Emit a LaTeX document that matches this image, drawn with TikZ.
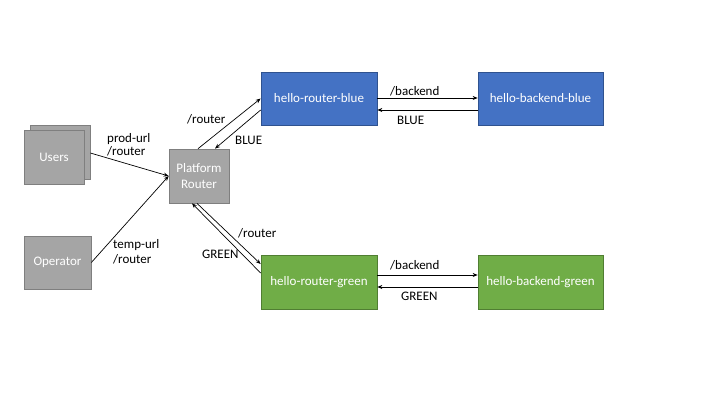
\documentclass[tikz,border=0pt]{standalone}
\usepackage{fontspec}
\setmainfont{Carlito}
\usetikzlibrary{arrows.meta}
\definecolor{svcblue}{HTML}{4472C4}
\definecolor{svcblueline}{HTML}{2F528F}
\definecolor{svcgreen}{HTML}{70AD47}
\definecolor{svcgreenline}{HTML}{507E32}
\definecolor{actgray}{HTML}{A5A5A5}
\definecolor{actgrayline}{HTML}{7F7F7F}
\tikzset{
  box/.style={draw, line width=0.7pt, text=white, font=\fontsize{13}{16}\selectfont,
    align=center, inner sep=0pt},
  graybox/.style={box, fill=actgray, draw=actgrayline},
  bluebox/.style={box, fill=svcblue, draw=svcblueline, minimum height=53pt},
  greenbox/.style={box, fill=svcgreen, draw=svcgreenline, minimum height=54pt},
  flow/.style={line width=0.7pt, -{Stealth[length=5pt,width=4pt]}},
  lbl/.style={font=\fontsize{13}{13}\selectfont, align=left, inner sep=0pt, anchor=west},
}
\begin{document}
\begin{tikzpicture}[x=1pt,y=-1pt]
\useasboundingbox (0,0) rectangle (720,405);
\fill[white] (0,0) rectangle (720,405);

% actors
\node[graybox, minimum width=60pt, minimum height=54pt] (usersback) at (60,152) {};
\node[graybox, minimum width=60pt, minimum height=54pt] (users) at (54,157) {Users};
\node[graybox, minimum width=67pt, minimum height=53pt] (operator) at (57.5,262.5) {Operator};
\node[graybox, minimum width=60pt, minimum height=54pt] (platform) at (199,176) {Platform\\Router};

% services
\node[bluebox, minimum width=116pt] (rblue) at (319,98.5) {hello-router-blue};
\node[bluebox, minimum width=125pt] (bblue) at (540.5,98.5) {hello-backend-blue};
\node[greenbox, minimum width=116pt] (rgreen) at (319,282) {hello-router-green};
\node[greenbox, minimum width=125pt] (bgreen) at (540.5,282) {hello-backend-green};

% incoming traffic
\draw[flow] ([yshift=-1pt]usersback.east) -- (platform.west);
\draw[flow] (operator.east) -- (platform.west);
\node[lbl, font=\fontsize{13}{13}\selectfont] (lprod) at (107,144.5) {prod-url\\/router};
\node[lbl, font=\fontsize{13}{15}\selectfont] (ltemp) at (113,251.5) {temp-url\\/router};

% platform router <-> blue router
\draw[flow] ([xshift=-1pt]platform.north) -- (rblue.west);
\draw[flow] ([yshift=-11.5pt]rblue.west) -- ([xshift=16pt]platform.north);
\node[lbl] (lrb) at (187,119) {/router};
\node[lbl] (lbb) at (235,140) {BLUE};

% platform router <-> green router
\draw[flow] ([xshift=-2pt]platform.south) -- ([yshift=18pt]rgreen.west);
\draw[flow] ([yshift=9pt]rgreen.west) -- ([xshift=-7pt]platform.south);
\node[lbl] (lrg) at (238,233) {/router};
\node[lbl] (lgg) at (202,254) {GREEN};

% blue router <-> blue backend
\draw[flow] ([yshift=0.5pt]rblue.east) -- ([yshift=0.5pt]bblue.west);
\draw[flow] ([yshift=-11.5pt]bblue.west) -- ([yshift=-11.5pt]rblue.east);
\node[lbl] (lbk1) at (390,91) {/backend};
\node[lbl] (lbk2) at (397,120) {BLUE};

% green router <-> green backend
\draw[flow] ([yshift=7pt]rgreen.east) -- ([yshift=7pt]bgreen.west);
\draw[flow] ([yshift=-5pt]bgreen.west) -- ([yshift=-5pt]rgreen.east);
\node[lbl] (lgk1) at (390,265) {/backend};
\node[lbl] (lgk2) at (401,296) {GREEN};
\end{tikzpicture}
\end{document}
